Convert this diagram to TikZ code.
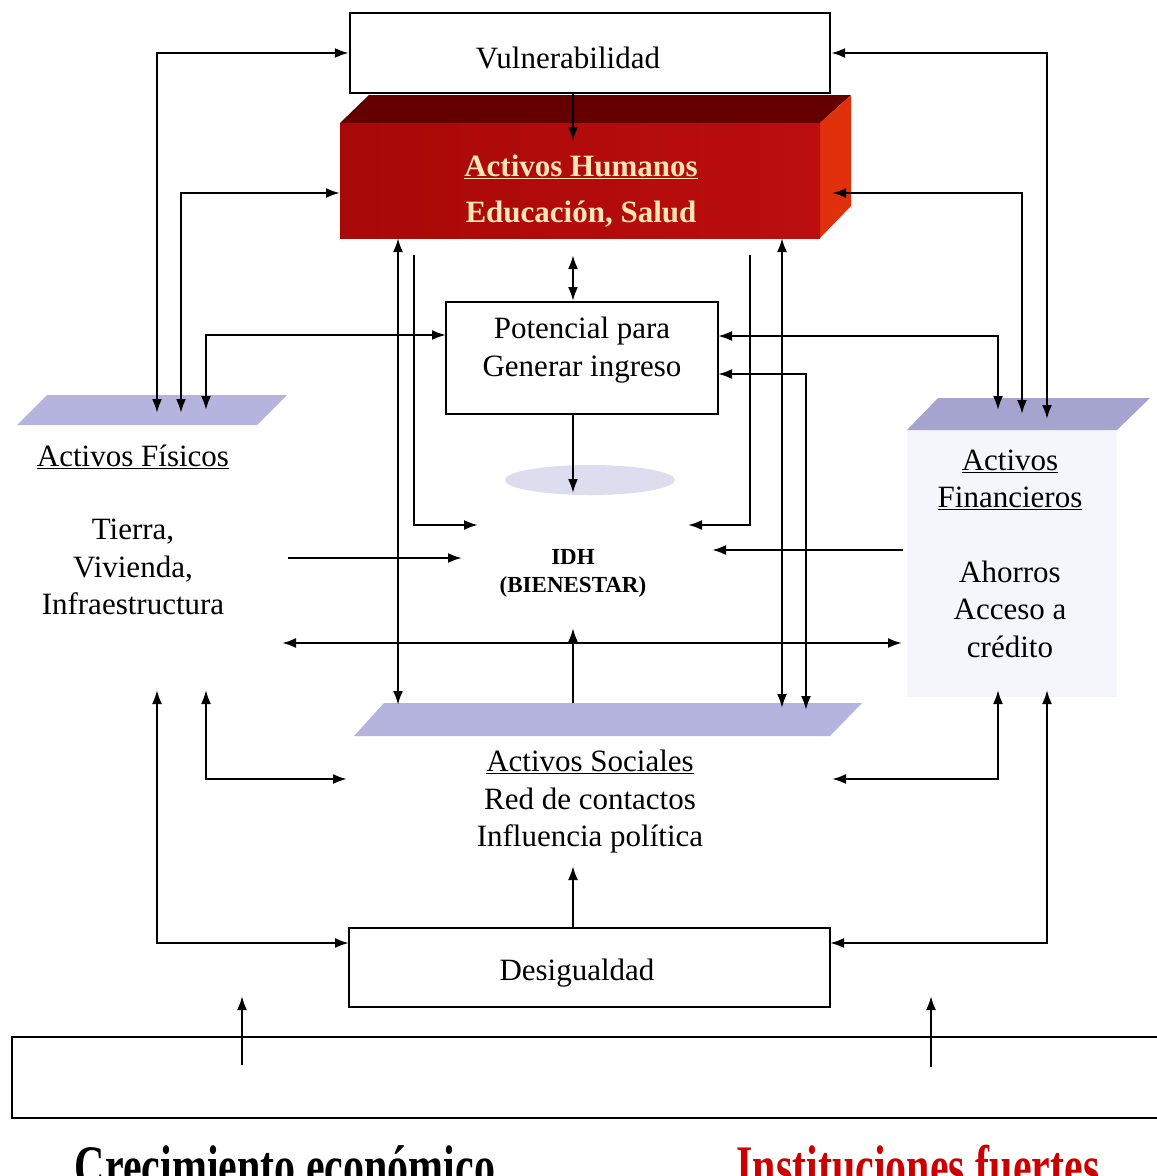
\documentclass[tikz,border=0pt]{standalone}
\usepackage{fontspec}
\setmainfont{Liberation Serif}
\usetikzlibrary{arrows.meta}
\definecolor{lav}{HTML}{B4B4DE}
\definecolor{lavd}{HTML}{A4A4CE}
\definecolor{lavl}{HTML}{F5F5FC}
\definecolor{redf}{HTML}{BC0E0E}
\definecolor{redfl}{HTML}{A80808}
\definecolor{redt}{HTML}{640000}
\definecolor{reds}{HTML}{E0300C}
\definecolor{cream}{HTML}{FFE6B4}
\definecolor{instred}{HTML}{CC0000}
\begin{document}
\begin{tikzpicture}[x=1pt,y=-1pt,
  >={Latex[length=14pt,width=10pt]},
  conn/.style={line width=2.3pt},
  box/.style={draw, line width=2.3pt, fill=white, inner sep=0pt},
  lbl/.style={font=\fontsize{31}{37.5}\selectfont, align=center, inner sep=0pt},
  lblb/.style={font=\fontsize{31}{46}\selectfont\bfseries, align=center, inner sep=0pt},
  big/.style={font=\fontsize{42}{50}\selectfont\bfseries, inner sep=0pt, anchor=base}]
\useasboundingbox (0,0) rectangle (1157,1176);
\fill[white] (0,0) rectangle (1157,1176);

% ---------- background shapes ----------
% Activos Fisicos top
\fill[lav] (17,425) -- (47,395) -- (287,395) -- (257,425) -- cycle;
% Activos Financieros body and top
\fill[lavl] (907,430) rectangle (1117,697);
\fill[lavd] (907,430) -- (938,398) -- (1150,398) -- (1117,430) -- cycle;
% Activos Sociales top
\fill[lav] (354,736) -- (384,703) -- (862,703) -- (830,736) -- cycle;
% IDH faint cloud
\fill[lav, opacity=0.45] (590,480) ellipse [x radius=85pt, y radius=15pt];

% ---------- red 3D box ----------
\fill[redt] (340,123) -- (369,95) -- (851,95) -- (820,123) -- cycle;
\fill[reds] (820,123) -- (851,95) -- (851,206) -- (820,238) -- cycle;
\shade[left color=redfl, right color=redf] (340,123) rectangle (820,238);
\node[minimum width=480pt, minimum height=115pt, inner sep=0pt] (hum) at (580,180.5) {};
\node[lblb, text=cream] (humt) at (581,191) {\underline{Activos Humanos}\\Educación, Salud};

% ---------- boxes ----------
\node[box, minimum width=480pt, minimum height=80pt] (vul) at (590,53) {};
\node[lbl] (vult) at (568,58) {Vulnerabilidad};
\node[box, minimum width=272pt, minimum height=112pt] (pot) at (582,358) {};
\node[lbl] (pott) at (582,350) {Potencial para\\Generar ingreso};
\node[box, minimum width=481pt, minimum height=79pt] (des) at (589.5,967.5) {};
\node[lbl] (dest) at (577,973) {Desigualdad};

% ---------- text blocks ----------
\node[lbl] (fist) at (133,457) {\underline{Activos Físicos}};
\node[lbl] (fisb) at (133,567) {Tierra,\\Vivienda,\\Infraestructura};
\node[lbl] (fint) at (1010,480) {\underline{Activos}\\\underline{Financieros}};
\node[lbl] (finb) at (1010,609) {Ahorros\\Acceso a\\crédito};
\node[lbl] (soct) at (590,802) {\underline{Activos Sociales}\\Red de contactos\\Influencia política};
\node[font=\fontsize{23}{28}\selectfont\bfseries, align=center, inner sep=0pt] (idh) at (573,573) {IDH\\(BIENESTAR)};

% ---------- bottom bar ----------
\draw[line width=2.3pt] (1160,1037) -- (12,1037) -- (12,1118) -- (1160,1118);
\node[big] (crec) at (285,1186) {\scalebox{1}[1.4]{Crecimiento económico}};
\node[big, text=instred] (inst) at (918,1186) {\scalebox{1}[1.4]{Instituciones fuertes}};

% ---------- connector end points ----------
\coordinate (fis1) at (157,413);
\coordinate (fis2) at (181,413);
\coordinate (fis3) at (206,410);
\coordinate (humL) at (340,193);
\coordinate (potL) at (446,335);
\coordinate (fisR) at (288,558);
\coordinate (idhL) at (462,558);
\coordinate (fisR2) at (282,643);
\coordinate (finL2) at (902,643);
\coordinate (fisB1) at (157,690);
\coordinate (fisB2) at (206,690);
\coordinate (desL) at (349,943);
\coordinate (socL) at (347,779);
\coordinate (humB1) at (398,238);
\coordinate (socT1) at (398,705);
\coordinate (s414) at (414,255);
\coordinate (idhL2) at (478,525);
\coordinate (fin1) at (998,410);
\coordinate (fin2) at (1022,414);
\coordinate (fin3) at (1047,419);
\coordinate (humR) at (832,193);
\coordinate (potR1) at (718,336);
\coordinate (potR2) at (718,374);
\coordinate (socT3) at (806,710);
\coordinate (humB2) at (782,238);
\coordinate (socT2) at (782,708);
\coordinate (s750) at (750,255);
\coordinate (idhR2) at (688,525);
\coordinate (finL) at (903,550);
\coordinate (idhR) at (712,550);
\coordinate (finB1) at (998,690);
\coordinate (finB2) at (1047,690);
\coordinate (socR) at (832,779);
\coordinate (desR) at (830,943);
\coordinate (socT0) at (573,703);
\coordinate (idhB) at (573,628);
\coordinate (desT) at (573,928);
\coordinate (socB) at (573,866);
\coordinate (potB) at (573,414);
\coordinate (idhT) at (573,493);
\coordinate (humB0) at (573,255);
\coordinate (potT) at (573,301);
\coordinate (vulB) at (573,93);
\coordinate (humT) at (573,141);
\coordinate (barA) at (242,1065);
\coordinate (barAT) at (242,996);
\coordinate (barB) at (931,1067);
\coordinate (barBT) at (931,996);

% ---------- connectors ----------
\draw[conn,<->] (fis1) |- (vul.west);
\draw[conn,<->] (fis2) |- (humL);
\draw[conn,<->] (fis3) |- (potL);
\draw[conn,->] (fisR) -- (idhL);
\draw[conn,<->] (fisR2) -- (finL2);
\draw[conn,<->] (fisB1) |- (desL);
\draw[conn,<->] (fisB2) |- (socL);
\draw[conn,<->] (humB1) -- (socT1);
\draw[conn,->] (s414) |- (idhL2);

\draw[conn,<->] (fin3) |- (vul.east);
\draw[conn,<->] (fin2) |- (humR);
\draw[conn,<->] (fin1) |- (potR1);
\draw[conn,<->] (potR2) -| (socT3);
\draw[conn,<->] (humB2) -- (socT2);
\draw[conn,->] (s750) |- (idhR2);
\draw[conn,->] (finL) -- (idhR);
\draw[conn,<->] (finB1) |- (socR);
\draw[conn,<->] (finB2) |- (desR);

\draw[conn,->] (socT0) -- (idhB);
\draw[conn,->] (desT) -- (socB);
\draw[conn,->] (potB) -- (idhT);
\draw[conn,<->] (humB0) -- (potT);
\draw[conn,->] (vulB) -- (humT);
\draw[conn,->] (barA) -- (barAT);
\draw[conn,->] (barB) -- (barBT);
\end{tikzpicture}
\end{document}
